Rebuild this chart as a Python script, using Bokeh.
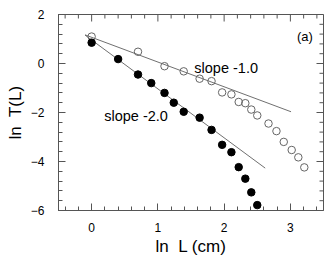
import numpy as np
from bokeh.plotting import figure
from bokeh.models import Range1d, SingleIntervalTicker, Label
from bokeh.embed import file_html
from bokeh.resources import INLINE

# data
open_x = [0.0, 0.70, 1.10, 1.39, 1.63, 1.81, 1.97, 2.11, 2.22, 2.32, 2.41, 2.50, 2.67, 2.79, 2.90, 3.02, 3.12, 3.21]
open_y = [1.10, 0.48, -0.11, -0.32, -0.62, -0.72, -1.18, -1.26, -1.57, -1.62, -1.88, -2.12, -2.45, -2.76, -3.20, -3.53, -3.83, -4.24]
fill_x = [0.0, 0.40, 0.70, 0.90, 1.10, 1.24, 1.39, 1.63, 1.81, 1.97, 2.11, 2.22, 2.32, 2.41, 2.50]
fill_y = [0.85, 0.18, -0.45, -0.80, -1.20, -1.60, -1.97, -2.21, -2.71, -3.32, -3.62, -4.23, -4.70, -5.26, -5.78]
fit1_x = [-0.10, 3.01]
fit1_y = [1.17, -1.97]
fit2_x = [-0.10, 2.62]
fit2_y = [1.16, -4.27]

X_MIN, X_MAX = -0.5, 3.5
Y_MIN, Y_MAX = -6, 2
x_major = [0, 1, 2, 3]
y_major = [-6, -4, -2, 0, 2]
x_minor = [round(v, 1) for v in np.arange(-0.4, 3.5, 0.2) if abs(v - round(v)) > 1e-6]
y_minor = [round(v, 1) for v in np.arange(-5.6, 2.0, 0.4) if abs(v / 2 - round(v / 2)) > 1e-6]

FONT = "Liberation Sans"
GRAY = "#555555"

p = figure(width=327, height=258, output_backend="svg", toolbar_location=None,
           x_range=Range1d(X_MIN, X_MAX), y_range=Range1d(Y_MIN, Y_MAX),
           min_border_left=58, min_border_right=4, min_border_top=14, min_border_bottom=46)
p.xgrid.visible = False
p.ygrid.visible = False
p.outline_line_color = GRAY
p.outline_line_width = 1

def style(ax):
    ax.axis_line_color = GRAY
    ax.major_tick_line_color = GRAY
    ax.minor_tick_line_color = GRAY
    ax.major_tick_in = 7
    ax.major_tick_out = 0
    ax.minor_tick_in = 4
    ax.minor_tick_out = 0
    ax.major_label_text_font = FONT
    ax.major_label_text_font_size = "12px"
    ax.major_label_text_color = "black"
    ax.axis_label_text_font = FONT
    ax.axis_label_text_font_size = "17px"
    ax.axis_label_text_font_style = "normal"
    ax.axis_label_text_color = "black"

p.xaxis.ticker = SingleIntervalTicker(interval=1, num_minor_ticks=5)
p.yaxis.ticker = SingleIntervalTicker(interval=2, num_minor_ticks=5)
for ax in p.xaxis:
    style(ax)
    ax.major_label_standoff = 12
    ax.axis_label = "ln\u00a0 L (cm)"
    ax.axis_label_standoff = 2
for ax in p.yaxis:
    style(ax)
    ax.major_label_standoff = 14
    ax.axis_label = "ln\u00a0 T(L)"
    ax.axis_label_standoff = 3

# inward ticks on the top and right frame edges (clipped to the frame)
p.scatter(x_major, [Y_MAX] * len(x_major), marker="dash", angle=np.pi / 2, size=14, line_color=GRAY)
p.scatter(x_minor, [Y_MAX] * len(x_minor), marker="dash", angle=np.pi / 2, size=8, line_color=GRAY)
p.scatter([X_MAX] * len(y_major), y_major, marker="dash", size=14, line_color=GRAY)
p.scatter([X_MAX] * len(y_minor), y_minor, marker="dash", size=8, line_color=GRAY)

p.line(fit1_x, fit1_y, line_color="#707070", line_width=1)
p.line(fit2_x, fit2_y, line_color="#707070", line_width=1)
p.scatter(open_x, open_y, size=7.5, marker="circle", fill_alpha=0, line_color="#666666", line_width=1)
p.scatter(fill_x, fill_y, size=7.5, marker="circle", fill_color="black", line_color="black")

p.add_layout(Label(x=1.55, y=-0.2, text="slope -1.0", text_font=FONT, text_font_size="14.5px",
                   text_baseline="alphabetic", text_align="left", text_color="black"))
p.add_layout(Label(x=0.19, y=-2.14, text="slope -2.0", text_font=FONT, text_font_size="14.5px",
                   text_baseline="alphabetic", text_align="left", text_color="black"))
p.add_layout(Label(x=3.10, y=1.1, text="(a)", text_font=FONT, text_font_size="13px",
                   text_baseline="alphabetic", text_align="left", text_color="black"))

open("out.html", "w").write(file_html(p, INLINE))
